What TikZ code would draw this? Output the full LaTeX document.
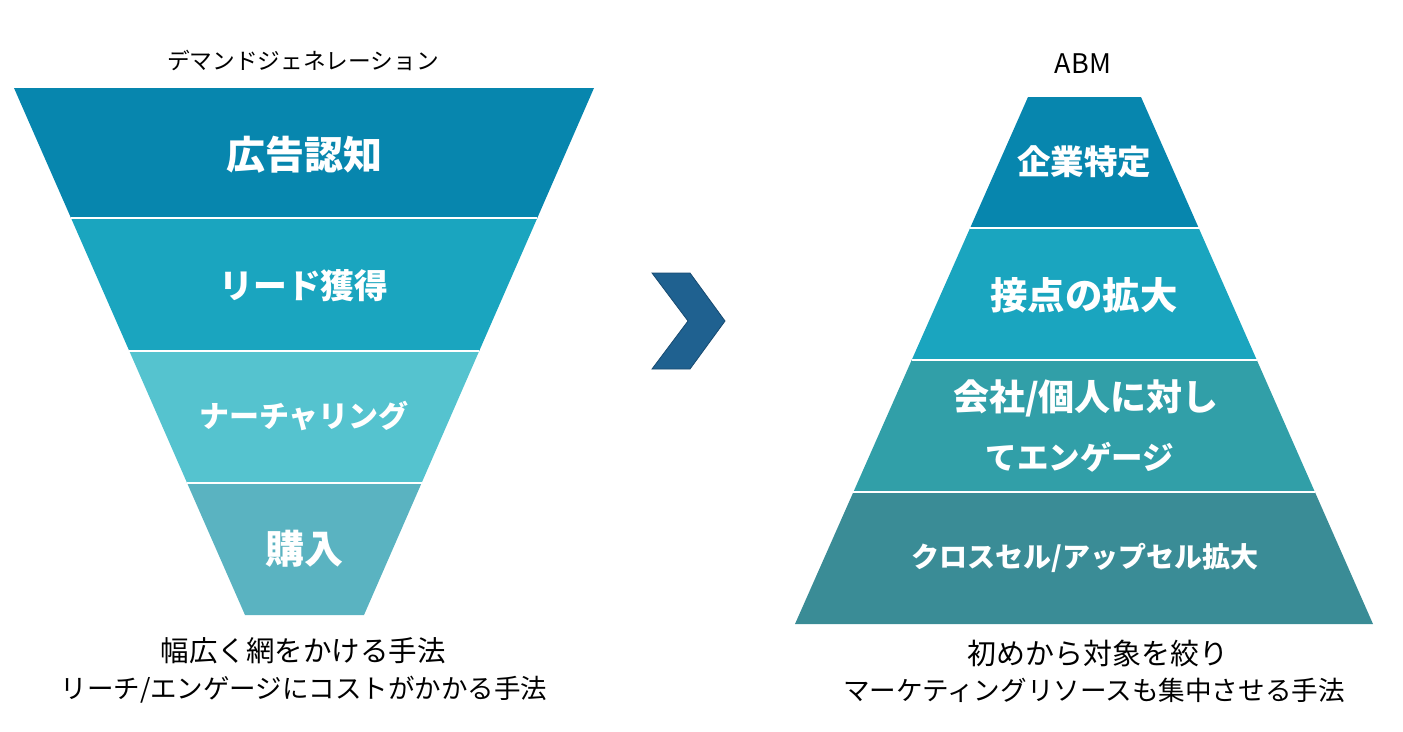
\documentclass[tikz,border=0pt]{standalone}
\usepackage{fontspec}
\setmainfont{Noto Sans CJK JP}
\definecolor{cA}{HTML}{0786AE}
\definecolor{cB}{HTML}{1AA5BF}
\definecolor{cC}{HTML}{55C3CF}
\definecolor{cD}{HTML}{5AB3C1}
\definecolor{cE}{HTML}{319FA8}
\definecolor{cF}{HTML}{3A8C96}
\definecolor{cArrow}{HTML}{1F6190}
\definecolor{cArrowEdge}{HTML}{174A70}
\newcommand{\fsz}[1]{\fontsize{#1}{#1}\selectfont}
\begin{document}
\begin{tikzpicture}[x=1pt,y=-1pt,
  divider/.style={draw=white,line width=2.5pt},
  bandlabel/.style={text=white,font=\bfseries,align=center,inner sep=0pt},
  caption/.style={text=black,align=center,inner sep=0pt}]
\useasboundingbox (0,0) rectangle (1403,731);
% funnel
\fill[cA] (14,88) -- (594,88) -- (537.3,218) -- (71.0,218) -- cycle;
\fill[cB] (71.0,218) -- (537.3,218) -- (479.2,351) -- (129.3,351) -- cycle;
\fill[cC] (129.3,351) -- (479.2,351) -- (421.6,483) -- (187.1,483) -- cycle;
\fill[cD] (187.1,483) -- (421.6,483) -- (364,615) -- (245,615) -- cycle;
\draw[divider] (71.0,218) -- (537.3,218);
\draw[divider] (129.3,351) -- (479.2,351);
\draw[divider] (187.1,483) -- (421.6,483);
% pyramid
\fill[cA] (1028,97) -- (1141,97) -- (1198.7,228) -- (970.1,228) -- cycle;
\fill[cB] (970.1,228) -- (1198.7,228) -- (1256.8,360) -- (911.7,360) -- cycle;
\fill[cE] (911.7,360) -- (1256.8,360) -- (1314.9,492) -- (853.4,492) -- cycle;
\fill[cF] (853.4,492) -- (1314.9,492) -- (1373,624) -- (795,624) -- cycle;
\draw[divider] (970.1,228) -- (1198.7,228);
\draw[divider] (911.7,360) -- (1256.8,360);
\draw[divider] (853.4,492) -- (1314.9,492);
% arrow
\draw[fill=cArrow,draw=cArrowEdge,line width=0.8pt,line join=miter]
  (652,273) -- (690,273) -- (725,321) -- (690,369) -- (652,369) -- (688,321) -- cycle;
% titles
\node[caption,font=\fsz{22.7}] (tl) at (303,60) {デマンドジェネレーション};
\node[caption,font=\fsz{27}] (tr) at (1083,64) {ABM};
% funnel labels
\node[bandlabel,font=\bfseries\fsz{39}] (f1) at (304,155) {広告認知};
\node[bandlabel,font=\bfseries\fsz{33.8}] (f2) at (304,286) {リード獲得};
\node[bandlabel,font=\bfseries\fsz{30}] (f3) at (304,416) {ナーチャリング};
\node[bandlabel,font=\bfseries\fsz{39}] (f4) at (304,549) {購入};
% pyramid labels
\node[bandlabel,font=\bfseries\fsz{33.5}] (p1) at (1084,162) {企業特定};
\node[bandlabel,font=\bfseries\fsz{37.4}] (p2) at (1084,295) {接点の拡大};
\node[bandlabel,font=\bfseries\fsz{36}] (p3a) at (1086,398) {会社/個人に対し};
\node[bandlabel,font=\bfseries\fsz{31.5}] (p3b) at (1080,457) {てエンゲージ};
\node[bandlabel,font=\bfseries\fsz{28}] (p4) at (1085,558) {クロスセル/アップセル拡大};
% captions
\node[caption,font=\fsz{28.5}] (cl1) at (303,651) {幅広く網をかける手法};
\node[caption,font=\fsz{26.5}] (cl2) at (304,690) {リーチ/エンゲージにコストがかかる手法};
\node[caption,font=\fsz{29}] (cr1) at (1098,653) {初めから対象を絞り};
\node[caption,font=\fsz{26.6}] (cr2) at (1094,690) {マーケティングリソースも集中させる手法};
\end{tikzpicture}
\end{document}
